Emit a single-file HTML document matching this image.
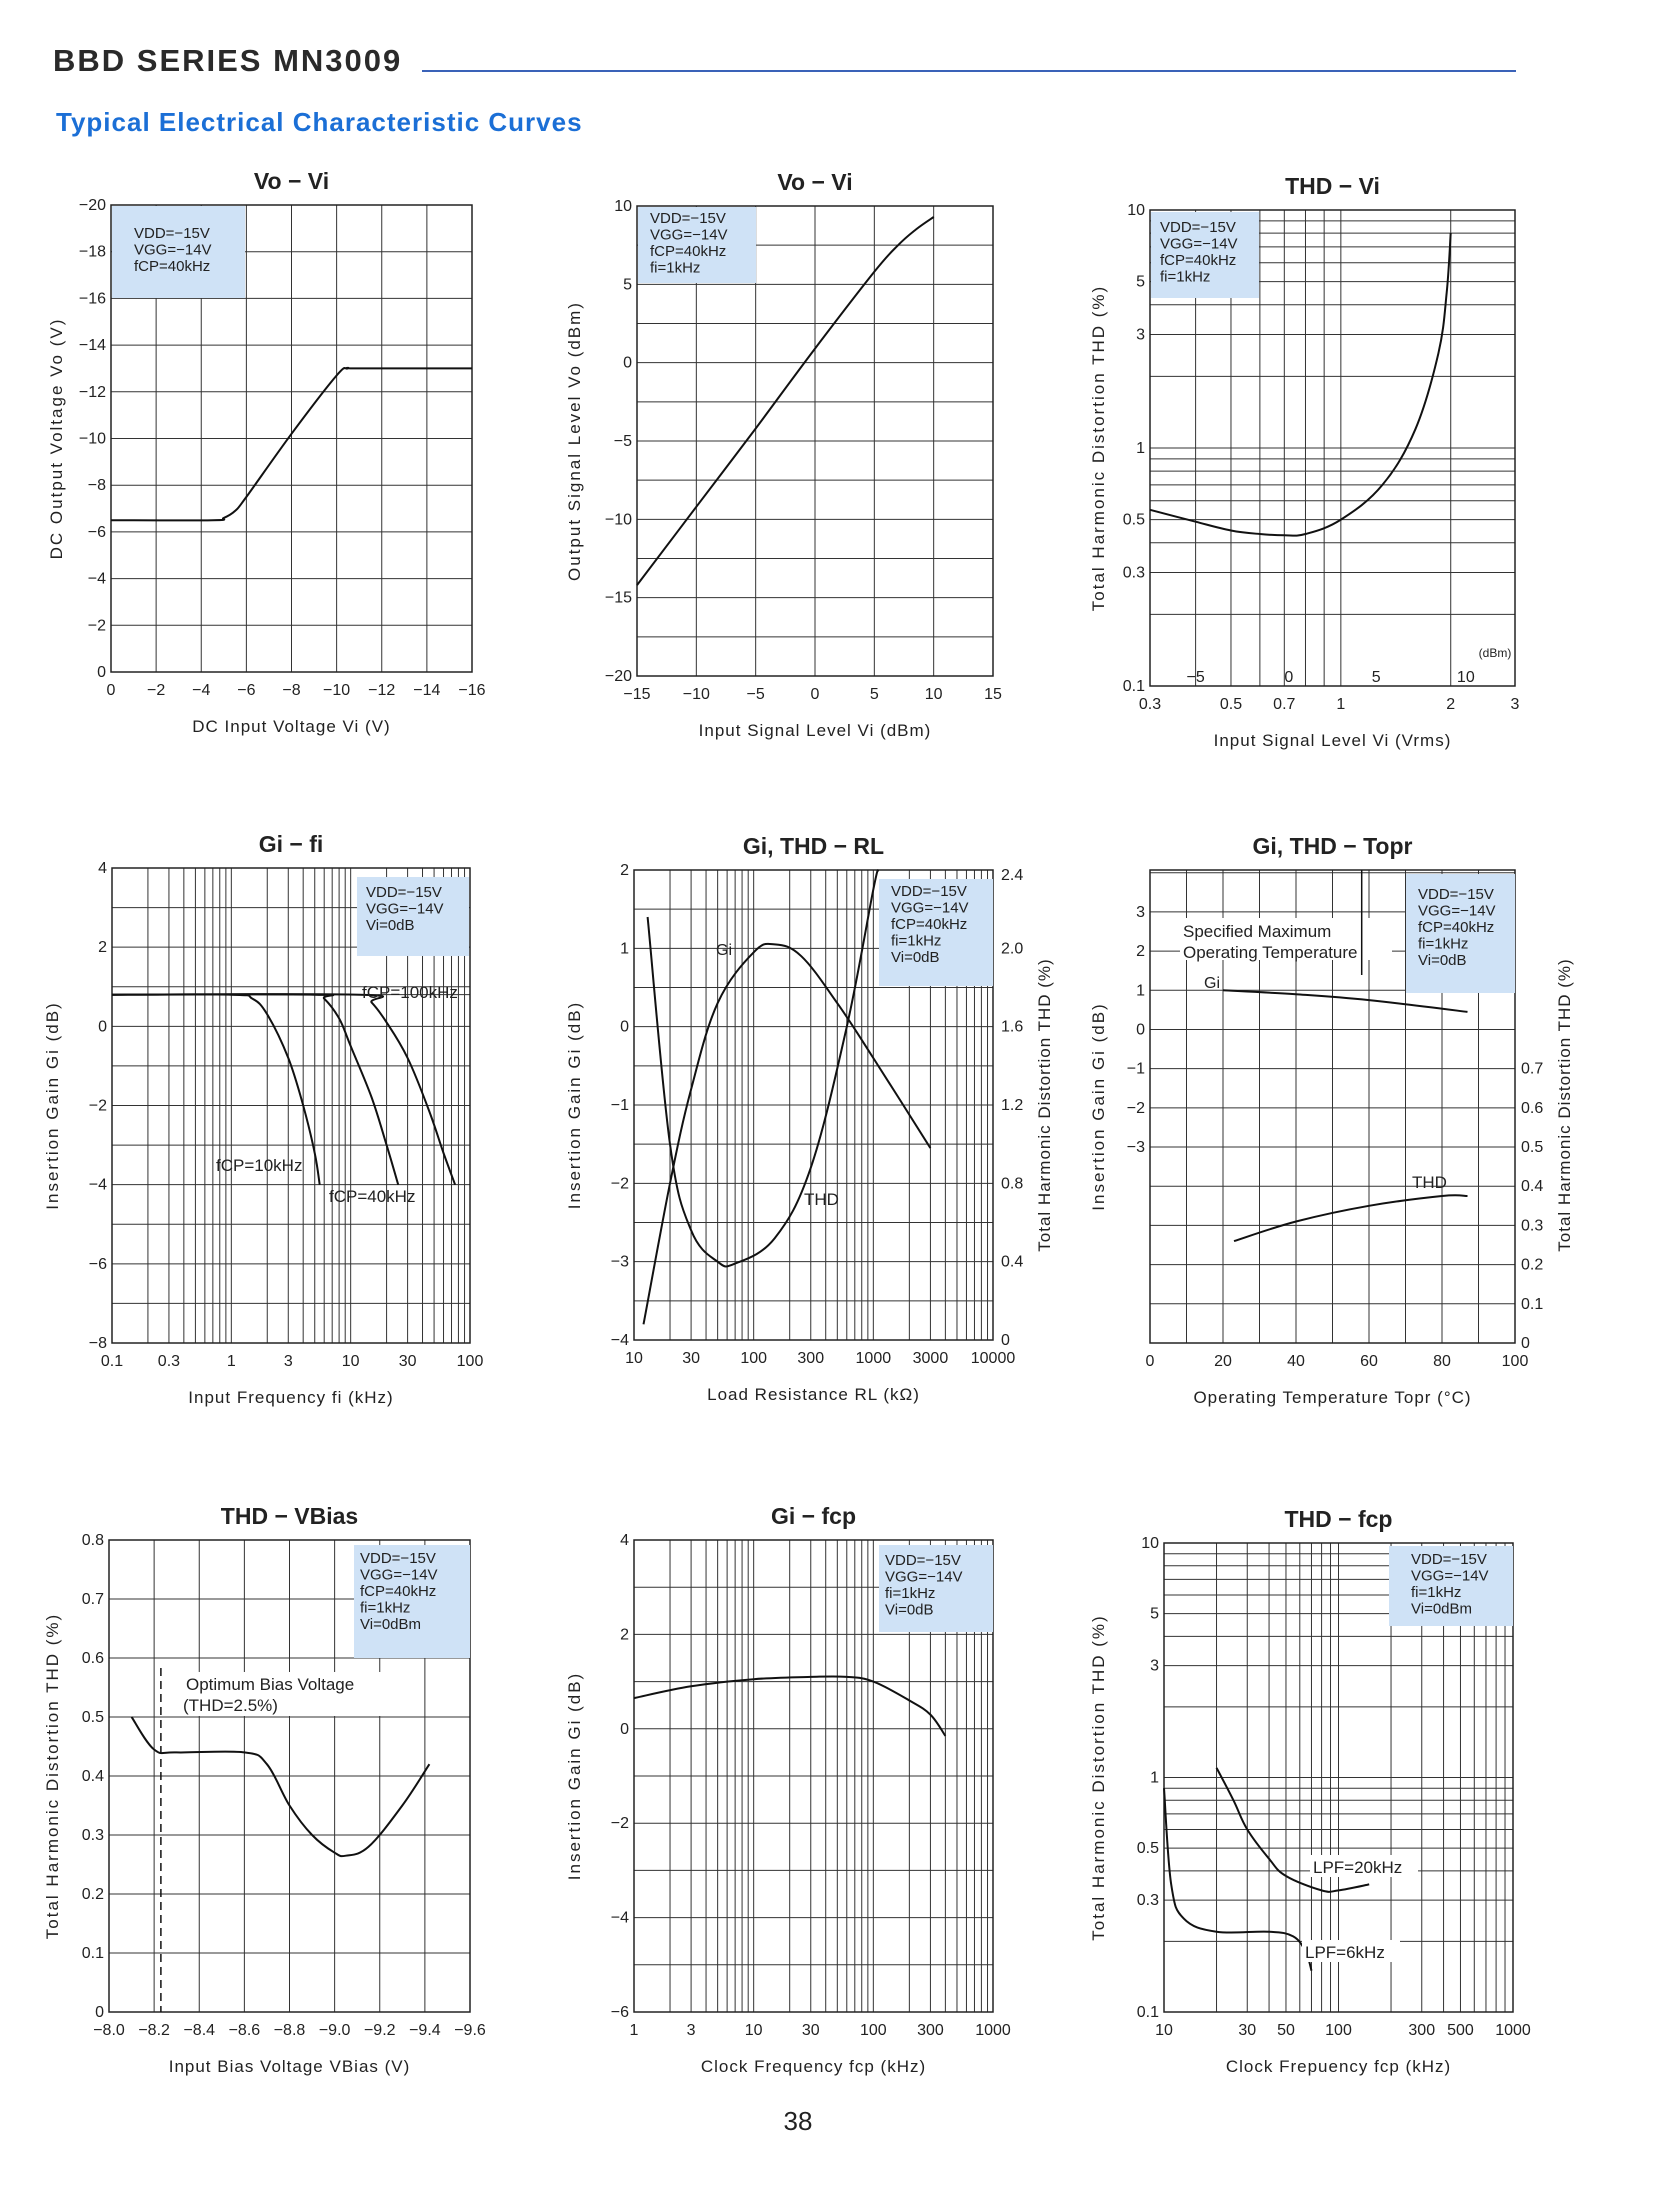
<!DOCTYPE html>
<html><head><meta charset="utf-8"><style>
html,body{margin:0;padding:0;background:#fff}
svg{display:block}
text{font-family:"Liberation Sans",sans-serif;fill:#222}
</style></head><body>
<svg id="page" width="1679" height="2193" viewBox="0 0 1679 2193" xmlns="http://www.w3.org/2000/svg">
<rect width="1679" height="2193" fill="#fff"/>
<text x="53" y="71" font-size="31" font-weight="bold" letter-spacing="2" style="fill:#2a2a2a">BBD SERIES MN3009</text>
<line x1="422" y1="71" x2="1516" y2="71" stroke="#3a62b8" stroke-width="2"/>
<text x="56" y="131" font-size="26" font-weight="bold" letter-spacing="1" style="fill:#1b6fd6">Typical Electrical Characteristic Curves</text>
<text x="798" y="2130" font-size="26" text-anchor="middle">38</text>
<g id="charts"></g>
</svg>
<script>
// ---- Chart 1: Vo-Vi (DC) ----
const c1X = [0, 4.5, 5, 5.5, 6, 8, 10, 10.5, 11, 16];
const c1Y = [6.5, 6.5, 6.6, 6.9, 7.5, 10.2, 12.7, 13, 13, 13];
// ---- Chart 2: Vo-Vi (dBm) ----
const c2X = [-15, -10, -5, 0, 5, 7, 8.5, 10];
const c2Y = [-14.2, -9.2, -4.2, 0.9, 5.8, 7.5, 8.5, 9.3];
// ---- Chart 3: THD-Vi ----
const c3X = [0.3, 0.4, 0.5, 0.6, 0.7, 0.8, 1, 1.3, 1.6, 1.85, 1.95, 2.0];
const c3Y = [0.55, 0.49, 0.45, 0.435, 0.43, 0.435, 0.5, 0.7, 1.2, 2.5, 4.5, 8];
// ---- Chart 4: Gi-fi ----
const c4X10 = [0.1, 1, 1.5, 2, 3, 4, 5, 5.5];
const c4Y10 = [0.8, 0.8, 0.7, 0.3, -0.8, -2, -3.2, -4];
const c4X40 = [0.1, 5, 6, 8, 10, 15, 20, 25];
const c4Y40 = [0.8, 0.8, 0.7, 0.2, -0.5, -1.8, -3, -4];
const c4X100 = [0.1, 12, 15, 20, 30, 45, 60, 75];
const c4Y100 = [0.8, 0.8, 0.6, 0.1, -0.8, -2.1, -3.2, -4];
// ---- Chart 5: Gi, THD-RL ----
const c5GX = [12, 20, 30, 50, 100, 150, 250, 500, 1000, 3000];
const c5GY = [-3.8, -2, -0.8, 0.3, 0.95, 1.05, 0.9, 0.3, -0.4, -1.55];
const c5TX = [13, 20, 30, 50, 70, 150, 300, 600, 1000, 1100];
const c5TY = [2.16, 1.0, 0.56, 0.4, 0.39, 0.52, 0.88, 1.6, 2.3, 2.4];
// ---- Chart 6: Gi, THD-Topr ----
const c6GX = [20, 40, 60, 87];
const c6GY = [1.0, 0.9, 0.75, 0.45];
const c6TX = [23, 40, 60, 80, 87];
const c6TY = [0.26, 0.31, 0.35, 0.375, 0.375];
// ---- Chart 7: THD-VBias ----
const c7X = [8.1, 8.2, 8.3, 8.6, 8.7, 8.8, 8.9, 9.0, 9.05, 9.15, 9.3, 9.42];
const c7Y = [0.5, 0.445, 0.44, 0.44, 0.42, 0.35, 0.3, 0.27, 0.265, 0.28, 0.35, 0.42];
// ---- Chart 8: Gi-fcp ----
const c8X = [1, 3, 10, 30, 60, 100, 200, 300, 400];
const c8Y = [0.65, 0.9, 1.05, 1.1, 1.1, 1.0, 0.6, 0.3, -0.15];
// ---- Chart 9: THD-fcp ----
const c9AX = [20, 25, 30, 40, 50, 80, 100, 150];
const c9AY = [1.1, 0.8, 0.6, 0.45, 0.38, 0.33, 0.33, 0.35];
const c9BX = [10, 11, 13, 20, 40, 55, 65, 70];
const c9BY = [0.9, 0.35, 0.25, 0.22, 0.22, 0.21, 0.18, 0.15];

const NS = 'http://www.w3.org/2000/svg';
const root = document.getElementById('charts');
function mk(tag, attrs, parent, txt) {
  const e = document.createElementNS(NS, tag);
  for (const k in attrs) e.setAttribute(k, attrs[k]);
  if (txt !== undefined) e.textContent = txt;
  (parent || root).appendChild(e);
  return e;
}
function scale(d0, d1, r0, r1, log) {
  if (log) { const a = Math.log10(d0), b = Math.log10(d1); return v => r0 + (Math.log10(v) - a) / (b - a) * (r1 - r0); }
  return v => r0 + (v - d0) / (d1 - d0) * (r1 - r0);
}
function logGrid(a, b) { const out = []; for (let e = Math.floor(Math.log10(a)); e <= Math.ceil(Math.log10(b)); e++) for (let m = 1; m < 10; m++) { const v = m * Math.pow(10, e); if (v >= a * 0.999 && v <= b * 1.001) out.push(v); } return out; }
function range(a, b, s) { const o = []; for (let v = a; v <= b + 1e-9; v += s) o.push(+v.toFixed(6)); return o; }

function chart(o) {
  const g = mk('g', {});
  
  
  const sx = scale(o.xd[0], o.xd[1], o.x0, o.x1, o.xlog);
  const sy = scale(o.yd[0], o.yd[1], o.y1, o.y0, o.ylog);
  o.sx = sx; o.sy = sy;
  o.xg.forEach(v => { const l = mk('line', { x1: sx(v), x2: sx(v), y1: o.y0, y2: o.y1, stroke: '#333', 'stroke-width': 1 }, g);
      });
  o.yg.forEach(v => { const l = mk('line', { x1: o.x0, x2: o.x1, y1: sy(v), y2: sy(v), stroke: '#333', 'stroke-width': 1 }, g);
      });
  const fr = mk('rect', { x: o.x0, y: o.y0, width: o.x1 - o.x0, height: o.y1 - o.y0, fill: 'none', stroke: '#222', 'stroke-width': 1.5 }, g);
   
  if (o.leg) {
    const lg = mk('g', {}, g);
     
    mk('rect', { x: o.leg[0], y: o.leg[1], width: o.leg[2], height: o.leg[3], fill: '#cfe2f6' }, lg);
    o.legT.forEach((t, i) => mk('text', { x: o.leg[0] + o.legDx, y: o.leg[1] + o.legDy + i * 16.5, 'font-size': 15 }, lg, t));
  }
  o.xt.forEach((v, i) => { const t = mk('text', { x: sx(v), y: o.y1 + 23, 'font-size': 16, 'text-anchor': 'middle' }, g, o.xtl[i]);
      });
  o.yt.forEach((v, i) => { const t = mk('text', { x: o.x0 - 5, y: sy(v) + 5, 'font-size': 16, 'text-anchor': 'end' }, g, o.ytl[i]);
      });
  const tt = mk('text', { x: (o.x0 + o.x1) / 2, y: o.y0 - 16, 'font-size': 23, 'font-weight': 'bold', 'text-anchor': 'middle' }, g, o.title);
   
  const xl = mk('text', { x: (o.x0 + o.x1) / 2, y: o.y1 + 60, 'font-size': 17, 'text-anchor': 'middle', 'letter-spacing': 1 }, g, o.xlab);
   
  const yx = o.ylx, yy = (o.y0 + o.y1) / 2;
  const yl = mk('text', { x: yx, y: yy, 'font-size': 17, 'text-anchor': 'middle', 'letter-spacing': 2, transform: `rotate(-90 ${yx} ${yy})` }, g, o.ylab);
   
  return g;
}
function curve(g, o, xs, ys, name, sy2) {
  const syy = sy2 || o.sy;
  const P = xs.map((x, i) => [o.sx(x), syy(ys[i])]);
  let d = 'M' + P[0][0].toFixed(1) + ',' + P[0][1].toFixed(1);
  for (let i = 0; i < P.length - 1; i++) {
    const p0 = P[Math.max(0, i - 1)], p1 = P[i], p2 = P[i + 1], p3 = P[Math.min(P.length - 1, i + 2)];
    const t = 0.18;
    const c1 = [p1[0] + (p2[0] - p0[0]) * t, p1[1] + (p2[1] - p0[1]) * t];
    const c2 = [p2[0] - (p3[0] - p1[0]) * t, p2[1] - (p3[1] - p1[1]) * t];
    d += ' C' + c1.map(v => v.toFixed(1)).join(',') + ' ' + c2.map(v => v.toFixed(1)).join(',') + ' ' + p2[0].toFixed(1) + ',' + p2[1].toFixed(1);
  }
  const p = mk('path', { d: d, fill: 'none', stroke: '#111', 'stroke-width': 2, 'stroke-linejoin': 'round' }, g);
   
  return p;
}
function label(g, x, y, t, name, size, anchor) {
  const e = mk('text', { x: x, y: y, 'font-size': size || 16, 'text-anchor': anchor || 'start' }, g, t);
   
  return e;
}

let o1 = { name: 'chart-vo-vi-dc', x0: 111, x1: 472, y0: 205, y1: 672, xd: [0, 16], yd: [0, 20],
  xg: range(0, 16, 2), yg: range(0, 20, 2), xt: range(0, 16, 2), xtl: ['0','−2','−4','−6','−8','−10','−12','−14','−16'],
  yt: range(0, 20, 2), ytl: ['0','−2','−4','−6','−8','−10','−12','−14','−16','−18','−20'],
  title: 'Vo − Vi', xlab: 'DC Input Voltage  Vi (V)', ylab: 'DC Output Voltage   Vo (V)', ylx: 62,
  leg: [112, 206, 133, 92], legT: ['VDD=−15V', 'VGG=−14V', 'fCP=40kHz'], legDx: 22, legDy: 32 };
let g1 = chart(o1); curve(g1, o1, c1X, c1Y, 'vo-curve');

let o2 = { name: 'chart-vo-vi-dbm', x0: 637, x1: 993, y0: 206, y1: 676, xd: [-15, 15], yd: [-20, 10],
  xg: range(-15, 15, 5), yg: range(-20, 10, 2.5), xt: range(-15, 15, 5), xtl: ['−15','−10','−5','0','5','10','15'],
  yt: range(-20, 10, 5), ytl: ['−20','−15','−10','−5','0','5','10'],
  title: 'Vo − Vi', xlab: 'Input Signal Level  Vi (dBm)', ylab: 'Output Signal Level   Vo (dBm)', ylx: 580,
  leg: [638, 207, 118, 76], legT: ['VDD=−15V', 'VGG=−14V', 'fCP=40kHz', 'fi=1kHz'], legDx: 12, legDy: 16 };
let g2 = chart(o2); curve(g2, o2, c2X, c2Y, 'vo-curve');

let o3 = { name: 'chart-thd-vi', x0: 1150, x1: 1515, y0: 210, y1: 686, xd: [0.3, 3], yd: [0.1, 10], xlog: true, ylog: true,
  xg: logGrid(0.3, 3), yg: logGrid(0.1, 10), xt: [0.3, 0.5, 0.7, 1, 2, 3], xtl: ['0.3','0.5','0.7','1','2','3'],
  yt: [0.1, 0.3, 0.5, 1, 3, 5, 10], ytl: ['0.1','0.3','0.5','1','3','5','10'],
  title: 'THD − Vi', xlab: 'Input Signal Level  Vi (Vrms)', ylab: 'Total Harmonic Distortion   THD (%)', ylx: 1104,
  leg: [1151, 212, 108, 86], legT: ['VDD=−15V', 'VGG=−14V', 'fCP=40kHz', 'fi=1kHz'], legDx: 9, legDy: 20 };
let g3 = chart(o3); curve(g3, o3, c3X, c3Y, 'thd-curve');
[['−5', 0.4], ['0', 0.72], ['5', 1.25], ['10', 2.2]].forEach(a => label(g3, o3.sx(a[1]), 682, a[0], 'dbm-tick-label', 16, 'middle'));
label(g3, 1495, 657, '(dBm)', 'dbm-unit-label', 12, 'middle');

let o4 = { name: 'chart-gi-fi', x0: 112, x1: 470, y0: 868, y1: 1343, xd: [0.1, 100], yd: [-8, 4], xlog: true,
  xg: logGrid(0.1, 100), yg: range(-8, 4, 1).concat([0.8]), xt: [0.1, 0.3, 1, 3, 10, 30, 100], xtl: ['0.1','0.3','1','3','10','30','100'],
  yt: range(-8, 4, 2), ytl: ['−8','−6','−4','−2','0','2','4'],
  title: 'Gi − fi', xlab: 'Input Frequency  fi (kHz)', ylab: 'Insertion Gain   Gi (dB)', ylx: 58,
  leg: [357, 877, 112, 79], legT: ['VDD=−15V', 'VGG=−14V', 'Vi=0dB'], legDx: 9, legDy: 20 };
let g4 = chart(o4);
curve(g4, o4, c4X10, c4Y10, 'fcp-10khz-curve'); curve(g4, o4, c4X40, c4Y40, 'fcp-40khz-curve'); curve(g4, o4, c4X100, c4Y100, 'fcp-100khz-curve');
label(g4, 362, 998, 'fCP=100kHz', 'fcp-100khz-label', 17);
label(g4, 216, 1171, 'fCP=10kHz', 'fcp-10khz-label', 17);
label(g4, 329, 1202, 'fCP=40kHz', 'fcp-40khz-label', 17);

let o5 = { name: 'chart-gi-thd-rl', x0: 634, x1: 993, y0: 870, y1: 1340, xd: [10, 10000], yd: [-4, 2], xlog: true,
  xg: logGrid(10, 10000), yg: range(-4, 2, 0.5), xt: [10, 30, 100, 300, 1000, 3000, 10000], xtl: ['10','30','100','300','1000','3000','10000'],
  yt: range(-4, 2, 1), ytl: ['−4','−3','−2','−1','0','1','2'],
  title: 'Gi, THD − RL', xlab: 'Load Resistance  RL (kΩ)', ylab: 'Insertion Gain   Gi (dB)', ylx: 580,
  leg: [879, 879, 114, 107], legT: ['VDD=−15V', 'VGG=−14V', 'fCP=40kHz', 'fi=1kHz', 'Vi=0dB'], legDx: 12, legDy: 17 };
let g5 = chart(o5);
const s5r = scale(0, 2.4, o5.y1, o5.y0);
curve(g5, o5, c5GX, c5GY, 'gi-curve'); curve(g5, o5, c5TX, c5TY, 'thd-curve', s5r);
[0, 0.4, 0.8, 1.2, 1.6, 2.0, 2.4].forEach(v => label(g5, 1001, s5r(v) + 5 + (v == 2.4 ? 5 : 0), v == 0 ? '0' : v.toFixed(1), 'right-tick-label', 16));
{ const yx = 1050, yy = 1105; const t = mk('text', { x: yx, y: yy, 'font-size': 17, 'text-anchor': 'middle', 'letter-spacing': 1, transform: `rotate(-90 ${yx} ${yy})` }, g5, 'Total Harmonic Distortion  THD (%)');
    }
label(g5, 716, 955, 'Gi', 'gi-label', 16); label(g5, 804, 1205, 'THD', 'thd-label', 17);

let o6 = { name: 'chart-gi-thd-topr', x0: 1150, x1: 1515, y0: 870, y1: 1343, xd: [0, 100], yd: [0, 12.07],
  xg: range(0, 100, 10), yg: range(0, 12, 1), xt: range(0, 100, 20), xtl: ['0','20','40','60','80','100'],
  yt: [5, 6, 7, 8, 9, 10, 11], ytl: ['−3','−2','−1','0','1','2','3'],
  title: 'Gi, THD − Topr', xlab: 'Operating Temperature  Topr (°C)', ylab: 'Insertion Gain   Gi (dB)', ylx: 1104,
  leg: [1406, 874, 109, 119], legT: ['VDD=−15V', 'VGG=−14V', 'fCP=40kHz', 'fi=1kHz', 'Vi=0dB'], legDx: 12, legDy: 25 };
let g6 = chart(o6);
const s6G = v => o6.sy(v + 8), s6T = v => o6.sy(v * 10);
curve(g6, o6, c6GX, c6GY, 'gi-curve', s6G); curve(g6, o6, c6TX, c6TY, 'thd-curve', s6T);
[0, 0.1, 0.2, 0.3, 0.4, 0.5, 0.6, 0.7].forEach(v => label(g6, 1521, s6T(v) + 5, v == 0 ? '0' : v.toFixed(1), 'right-tick-label', 16));
{ const yx = 1570, yy = 1105; const t = mk('text', { x: yx, y: yy, 'font-size': 17, 'text-anchor': 'middle', 'letter-spacing': 1, transform: `rotate(-90 ${yx} ${yy})` }, g6, 'Total Harmonic Distortion  THD (%)');
    }
mk('rect', { x: 1180, y: 918, width: 212, height: 42, fill: '#fff' }, g6);
label(g6, 1183, 937, 'Specified Maximum', 'spec-max-label', 17);
label(g6, 1183, 958, 'Operating Temperature', 'op-temp-label', 17);
mk('line', { x1: o6.sx(58), x2: o6.sx(58), y1: 870, y2: 975, stroke: '#111', 'stroke-width': 1.5 }, g6);
label(g6, 1204, 988, 'Gi', 'gi-label', 16); label(g6, 1412, 1188, 'THD', 'thd-label', 17);

let o7 = { name: 'chart-thd-vbias', x0: 109, x1: 470, y0: 1540, y1: 2012, xd: [8.0, 9.6], yd: [0, 0.8],
  xg: range(8.0, 9.6, 0.2), yg: range(0, 0.8, 0.1), xt: range(8.0, 9.6, 0.2), xtl: ['−8.0','−8.2','−8.4','−8.6','−8.8','−9.0','−9.2','−9.4','−9.6'],
  yt: range(0, 0.8, 0.1), ytl: ['0','0.1','0.2','0.3','0.4','0.5','0.6','0.7','0.8'],
  title: 'THD − VBias', xlab: 'Input Bias Voltage  VBias (V)', ylab: 'Total Harmonic Distortion   THD (%)', ylx: 58,
  leg: [354, 1545, 116, 113], legT: ['VDD=−15V', 'VGG=−14V', 'fCP=40kHz', 'fi=1kHz', 'Vi=0dBm'], legDx: 6, legDy: 18 };
let g7 = chart(o7); curve(g7, o7, c7X, c7Y, 'thd-curve');
mk('line', { x1: o7.sx(8.23), x2: o7.sx(8.23), y1: 1668, y2: 2012, stroke: '#111', 'stroke-width': 1.5, 'stroke-dasharray': '8,5' }, g7);
mk('rect', { x: 182, y: 1672, width: 200, height: 44, fill: '#fff' }, g7);
label(g7, 186, 1690, 'Optimum Bias Voltage', 'optimum-bias-label', 17);
label(g7, 183, 1711, '(THD=2.5%)', 'optimum-thd-label', 17);

let o8 = { name: 'chart-gi-fcp', x0: 634, x1: 993, y0: 1540, y1: 2012, xd: [1, 1000], yd: [-6, 4], xlog: true,
  xg: logGrid(1, 1000), yg: range(-6, 4, 1), xt: [1, 3, 10, 30, 100, 300, 1000], xtl: ['1','3','10','30','100','300','1000'],
  yt: range(-6, 4, 2), ytl: ['−6','−4','−2','0','2','4'],
  title: 'Gi − fcp', xlab: 'Clock Frequency  fcp (kHz)', ylab: 'Insertion Gain   Gi (dB)', ylx: 580,
  leg: [879, 1545, 114, 87], legT: ['VDD=−15V', 'VGG=−14V', 'fi=1kHz', 'Vi=0dB'], legDx: 6, legDy: 20 };
let g8 = chart(o8); curve(g8, o8, c8X, c8Y, 'gi-curve');

let o9 = { name: 'chart-thd-fcp', x0: 1164, x1: 1513, y0: 1543, y1: 2012, xd: [10, 1000], yd: [0.1, 10], xlog: true, ylog: true,
  xg: logGrid(10, 1000), yg: logGrid(0.1, 10), xt: [10, 30, 50, 100, 300, 500, 1000], xtl: ['10','30','50','100','300','500','1000'],
  yt: [0.1, 0.3, 0.5, 1, 3, 5, 10], ytl: ['0.1','0.3','0.5','1','3','5','10'],
  title: 'THD − fcp', xlab: 'Clock Frepuency  fcp (kHz)', ylab: 'Total Harmonic Distortion   THD (%)', ylx: 1104,
  leg: [1389, 1546, 124, 80], legT: ['VDD=−15V', 'VGG=−14V', 'fi=1kHz', 'Vi=0dBm'], legDx: 22, legDy: 18 };
let g9 = chart(o9);
curve(g9, o9, c9AX, c9AY, 'lpf-20khz-curve'); curve(g9, o9, c9BX, c9BY, 'lpf-6khz-curve');
mk('rect', { x: 1310, y: 1855, width: 108, height: 22, fill: '#fff' }, g9);
label(g9, 1313, 1873, 'LPF=20kHz', 'lpf-20khz-label', 17);
mk('rect', { x: 1302, y: 1940, width: 98, height: 22, fill: '#fff' }, g9);
label(g9, 1305, 1958, 'LPF=6kHz', 'lpf-6khz-label', 17);
</script>
</body></html>
